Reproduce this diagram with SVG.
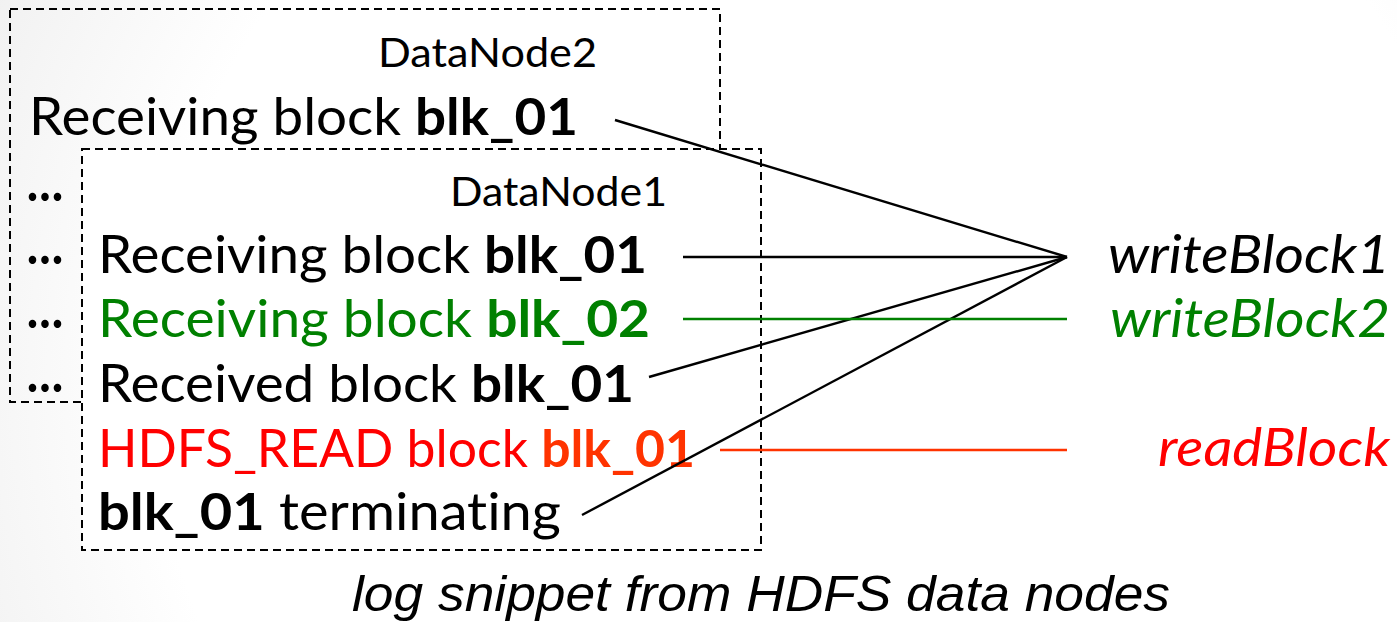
<svg xmlns="http://www.w3.org/2000/svg" width="1397" height="622" viewBox="0 0 1397 622">
<defs>
<radialGradient id="bg" gradientUnits="userSpaceOnUse" cx="820" cy="380" r="950">
<stop offset="0" stop-color="#ffffff"/>
<stop offset="0.7" stop-color="#ffffff"/>
<stop offset="1" stop-color="#efefef"/>
</radialGradient>
<style>
text{font-variant-ligatures:none}
.t{font-family:Lato,"Open Sans",sans-serif;font-size:52px;fill:#000}
.h{font-family:Lato,"Open Sans",sans-serif;font-size:40px;fill:#000}
.e{font-family:Lato,"Open Sans",sans-serif;font-size:52px;font-weight:900;fill:#000}
.i{font-family:Lato,"Open Sans",sans-serif;font-size:52px;font-style:italic}
.b{font-weight:bold}
.box{fill:none;stroke:#000;stroke-width:2;stroke-dasharray:8 5}
.ln{stroke-width:2.4;fill:none}
</style>
</defs>
<rect width="1397" height="622" fill="url(#bg)"/>
<g id="datanode2">
<rect class="box" x="10" y="9" width="710" height="393"/>
<text class="h" x="378" y="67" textLength="219" lengthAdjust="spacingAndGlyphs">DataNode2</text>
<text class="t" x="29" y="135" textLength="549" lengthAdjust="spacingAndGlyphs">Receiving block <tspan class="b">blk_01</tspan></text>
<text class="e" x="27" y="201" textLength="36" lengthAdjust="spacingAndGlyphs">…</text>
<text class="e" x="27" y="264" textLength="36" lengthAdjust="spacingAndGlyphs">…</text>
<text class="e" x="27" y="328" textLength="36" lengthAdjust="spacingAndGlyphs">…</text>
<text class="e" x="27" y="392" textLength="36" lengthAdjust="spacingAndGlyphs">…</text>
</g>
<g id="datanode1">
<rect class="box" x="82" y="149" width="679" height="401" style="fill:#ffffff"/>
<text class="h" x="450" y="206" textLength="217" lengthAdjust="spacingAndGlyphs">DataNode1</text>
<text class="t" x="98" y="273" textLength="549" lengthAdjust="spacingAndGlyphs">Receiving block <tspan class="b">blk_01</tspan></text>
<text class="t" x="98" y="337" textLength="552" lengthAdjust="spacingAndGlyphs" style="fill:#008000">Receiving block <tspan class="b">blk_02</tspan></text>
<text class="t" x="98" y="402" textLength="536" lengthAdjust="spacingAndGlyphs">Received block <tspan class="b">blk_01</tspan></text>
<text class="t" x="98" y="467" textLength="597" lengthAdjust="spacingAndGlyphs" style="fill:#ff0000">HDFS_READ block <tspan class="b" style="fill:#ff3300">blk_01</tspan></text>
<text class="t" x="98" y="530" textLength="463" lengthAdjust="spacingAndGlyphs"><tspan class="b">blk_01</tspan> terminating</text>
</g>
<g id="connectors">
<line class="ln" x1="615" y1="120" x2="1067" y2="257" stroke="#000"/>
<line class="ln" x1="683" y1="257" x2="1067" y2="257" stroke="#000"/>
<line class="ln" x1="649" y1="377" x2="1067" y2="257" stroke="#000"/>
<line class="ln" x1="582" y1="515" x2="1067" y2="257" stroke="#000"/>
<line class="ln" x1="683" y1="319" x2="1067" y2="319" stroke="#008000"/>
<line class="ln" x1="720" y1="450" x2="1067" y2="450" stroke="#ff3300"/>
</g>
<g id="writeBlock1"><text class="i" x="1108" y="273" textLength="282" lengthAdjust="spacingAndGlyphs" fill="#000">writeBlock1</text></g>
<g id="writeBlock2"><text class="i" x="1110" y="337" textLength="280" lengthAdjust="spacingAndGlyphs" fill="#008000">writeBlock2</text></g>
<g id="readBlock"><text class="i" x="1158" y="466" textLength="232" lengthAdjust="spacingAndGlyphs" fill="#ff0000">readBlock</text></g>
<text x="352" y="611" font-family="'Liberation Sans',Arial,sans-serif" font-size="50" font-style="italic" textLength="818" lengthAdjust="spacingAndGlyphs" fill="#000">log snippet from HDFS data nodes</text>
</svg>
